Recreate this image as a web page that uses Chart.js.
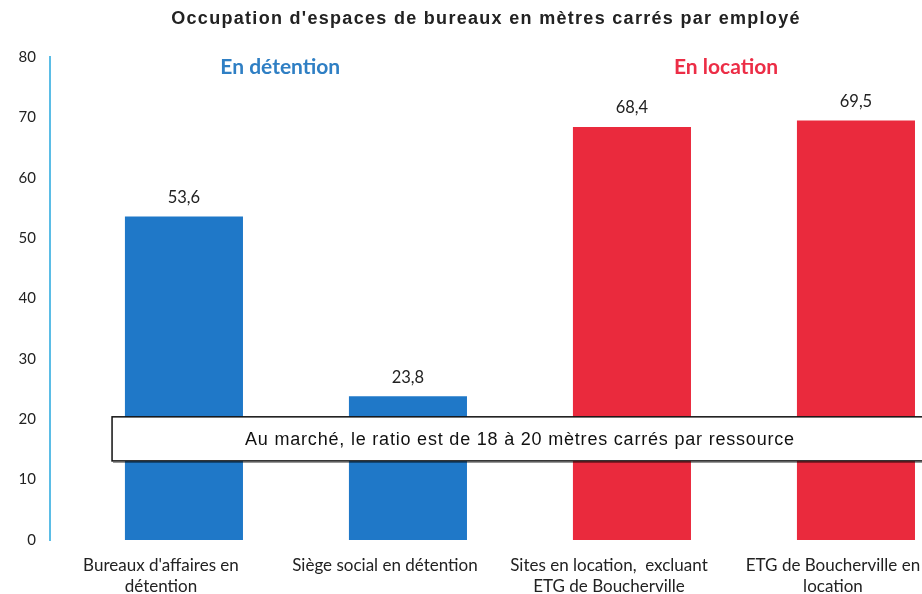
<!DOCTYPE html>
<html>
<head>
<meta charset="utf-8">
<script src="https://cdn.jsdelivr.net/npm/chart.js@4/dist/chart.umd.min.js"></script>
<style>
  html, body { margin: 0; padding: 0; background: #fff; overflow: hidden; }
  #wrap { width: 922px; height: 594px; overflow: hidden; position: relative; }
  #box { width: 972px; height: 594px; }
</style>
</head>
<body>
<div id="wrap"><div id="box"><canvas id="c"></canvas></div></div>
<script>
// ---- data ----
const categories = [
  ["Bureaux d'affaires en", "détention"],
  ["Siège social en détention"],
  ["Sites en location,  excluant", "ETG de Boucherville"],
  ["ETG de Boucherville en", "location"]
];
const values = [53.6, 23.8, 68.4, 69.5];
const yTicks = [0, 10, 20, 30, 40, 50, 60, 70, 80];
const groupLabels = ["En détention", "En location"];
const chartTitle = "Occupation d'espaces de bureaux en mètres carrés par employé";
const marketNote = "Au marché, le ratio est de 18 à 20 mètres carrés par ressource";

// ---- styling / placement (not data) ----
const BLUE = "#1f78c8";
const RED = "#ea2a3d";
const barColors = [BLUE, BLUE, RED, RED];
const groupColors = ["#2f7fc4", "#ec2d46"];
const groupPos = [{ x: 0.43, y: 78.3 }, { x: 2.42, y: 78.3 }];
const noteBox = { x0: -0.321, x1: 3.6, yTop: 20.4, yBottom: 13.1, textX: 1.5 };

const fmt = v => v.toFixed(1).replace('.', ',');

const overlay = {
  id: 'overlay',
  afterDraw(chart) {
    const { ctx, scales: { x, y } } = chart;
    ctx.save();
    // title
    ctx.font = 'bold 18px "Liberation Sans", Arial, sans-serif';
    ctx.letterSpacing = '1.3px';
    ctx.fillStyle = '#222';
    ctx.textAlign = 'center';
    ctx.textBaseline = 'middle';
    ctx.fillText(chartTitle, chart.width / 2, 19);
    ctx.letterSpacing = '0px';
    // value labels
    const meta = chart.getDatasetMeta(0);
    ctx.font = '16.5px Lato, "Liberation Sans", sans-serif';
    ctx.fillStyle = '#222';
    meta.data.forEach((bar, i) => {
      ctx.fillText(fmt(values[i]), bar.x, bar.y - 19);
    });
    // group labels
    ctx.font = 'bold 21px Lato, "Liberation Sans", sans-serif';
    groupLabels.forEach((t, i) => {
      ctx.fillStyle = groupColors[i];
      ctx.fillText(t, x.getPixelForValue(groupPos[i].x), y.getPixelForValue(groupPos[i].y));
    });
    // market note box
    const bx0 = x.getPixelForValue(noteBox.x0);
    const bx1 = x.getPixelForValue(noteBox.x1);
    const by0 = y.getPixelForValue(noteBox.yTop);
    const by1 = y.getPixelForValue(noteBox.yBottom);
    ctx.fillStyle = '#fff';
    ctx.fillRect(bx0, by0, bx1 - bx0, by1 - by0);
    ctx.strokeStyle = '#111';
    ctx.lineWidth = 1.5;
    ctx.strokeRect(bx0, by0, bx1 - bx0, by1 - by0);
    ctx.lineWidth = 1;
    ctx.strokeStyle = 'rgba(0,0,0,0.45)';
    ctx.beginPath();
    ctx.moveTo(bx0 + 1, by1 + 1.5);
    ctx.lineTo(bx1, by1 + 1.5);
    ctx.stroke();
    ctx.fillStyle = '#111';
    ctx.font = '18px "Liberation Sans", Arial, sans-serif';
    ctx.letterSpacing = '0.8px';
    ctx.fillText(marketNote, x.getPixelForValue(noteBox.textX), (by0 + by1) / 2 + 1);
    ctx.restore();
  }
};

new Chart(document.getElementById('c'), {
  type: 'bar',
  data: {
    datasets: [{
      data: values.map((v, i) => ({ x: i, y: v })),
      backgroundColor: barColors,
      borderWidth: 0,
      categoryPercentage: 1,
      barPercentage: 0.527
    }]
  },
  options: {
    responsive: true,
    maintainAspectRatio: false,
    animation: false,
    layout: { padding: { top: 57, left: 0, right: 0, bottom: 0 } },
    plugins: {
      legend: { display: false },
      tooltip: { enabled: false },
      title: { display: false }
    },
    scales: {
      x: {
        type: 'linear',
        offset: false,
        min: -0.598,
        max: 3.518,
        grid: { display: false, offset: false },
        border: { display: false },
        afterBuildTicks: s => { s.ticks = categories.map((_, i) => ({ value: i })); },
        afterFit: s => { s.height = 54; s.paddingLeft = 0; s.paddingRight = 0; },
        ticks: {
          autoSkip: false,
          maxRotation: 0,
          padding: 7,
          labelOffset: -23,
          color: '#222',
          font: { family: 'Lato, "Liberation Sans", sans-serif', size: 17, lineHeight: 1.24 },
          callback: v => categories[v]
        }
      },
      y: {
        min: 0,
        max: 80,
        afterBuildTicks: s => { s.ticks = yTicks.map(v => ({ value: v })); },
        afterFit: s => { s.width = 50; },
        grid: { display: false, drawTicks: false },
        border: { display: true, color: '#5bbde6', width: 2 },
        ticks: {
          padding: 14,
          color: '#222',
          font: { family: 'Lato, "Liberation Sans", sans-serif', size: 15 }
        }
      }
    }
  },
  plugins: [overlay]
});
</script>
</body>
</html>
